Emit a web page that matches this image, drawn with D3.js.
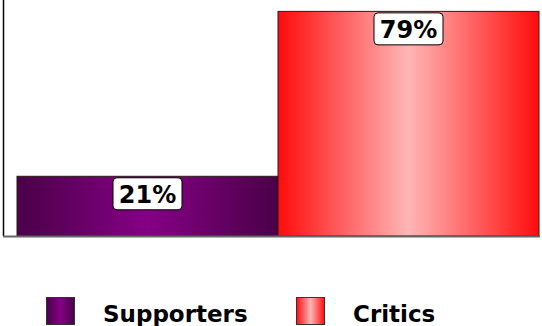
<!DOCTYPE html>
<html>
<head>
<meta charset="utf-8">
<script src="https://cdn.jsdelivr.net/npm/d3@7"></script>
<style>
  html, body { margin: 0; padding: 0; background: #fff; }
  svg { display: block; }
</style>
</head>
<body>
<script>
// Share of opinion by group
const categories = ["Supporters", "Critics"];
const values = [21, 79];
const labels = ["21%", "79%"];

const W = 542, H = 326;
const svg = d3.select("body").append("svg").attr("width", W).attr("height", H);

// Horizontal cylinder-like gradients for each series
const defs = svg.append("defs");
const gradStops = [
  { id: "g0", edge: "#4a0048", mid: "#850085" },
  { id: "g1", edge: "#ff0c0c", mid: "#ffb6b6" }
];
gradStops.forEach(g => {
  const lg = defs.append("linearGradient").attr("id", g.id)
    .attr("x1", "0%").attr("x2", "100%").attr("y1", "0%").attr("y2", "0%");
  lg.append("stop").attr("offset", "0%").attr("stop-color", g.edge);
  lg.append("stop").attr("offset", "50%").attr("stop-color", g.mid);
  lg.append("stop").attr("offset", "100%").attr("stop-color", g.edge);
});

const x = d3.scaleBand().domain(categories).range([17, 539]).padding(0);
const y = d3.scaleLinear().domain([0, 83]).range([236, 0]);

// Bars
svg.selectAll("rect.bar").data(categories).join("rect")
  .attr("class", "bar")
  .attr("x", d => x(d))
  .attr("y", (d, i) => y(values[i]))
  .attr("width", x.bandwidth())
  .attr("height", (d, i) => y(0) - y(values[i]))
  .attr("fill", (d, i) => `url(#g${i})`)
  .attr("stroke", "#2a1a1a")
  .attr("stroke-width", 1);

// Axes: vertical line on the left, baseline along the bottom
svg.append("line").attr("x1", 3.5).attr("x2", 3.5).attr("y1", 0).attr("y2", y(0))
  .attr("stroke", "#000").attr("stroke-width", 1.5);
svg.append("line").attr("x1", 3).attr("x2", 540).attr("y1", y(0) + 0.5).attr("y2", y(0) + 0.5)
  .attr("stroke", "#666").attr("stroke-width", 2);

// Value labels in rounded white boxes
const lab = svg.selectAll("g.lab").data(categories).join("g")
  .attr("class", "lab")
  .attr("transform", (d, i) => `translate(${x(d) + x.bandwidth() / 2},${y(values[i]) + 1})`);
lab.append("rect")
  .attr("x", -34.5).attr("y", 0.5).attr("width", 69).attr("height", 32)
  .attr("rx", 4).attr("ry", 4)
  .attr("fill", "#fff").attr("stroke", "#000").attr("stroke-width", 1);
lab.append("text")
  .attr("x", 0).attr("y", 26)
  .attr("text-anchor", "middle")
  .attr("font-family", "DejaVu Sans, Verdana, sans-serif")
  .attr("font-weight", "bold")
  .attr("font-size", 24)
  .attr("fill", "#000")
  .text((d, i) => labels[i]);

// Legend
const legX = [46, 296];
const leg = svg.selectAll("g.leg").data(categories).join("g")
  .attr("class", "leg")
  .attr("transform", (d, i) => `translate(${legX[i]},297)`);
leg.append("rect")
  .attr("x", 0.5).attr("y", 0.5).attr("width", 28).attr("height", 27)
  .attr("fill", (d, i) => `url(#g${i})`)
  .attr("stroke", "#333").attr("stroke-width", 1);
leg.append("text")
  .attr("x", 57).attr("y", 25)
  .attr("font-family", "DejaVu Sans, Verdana, sans-serif")
  .attr("font-weight", "bold")
  .attr("font-size", 23)
  .attr("fill", "#000")
  .text(d => d);
</script>
</body>
</html>
